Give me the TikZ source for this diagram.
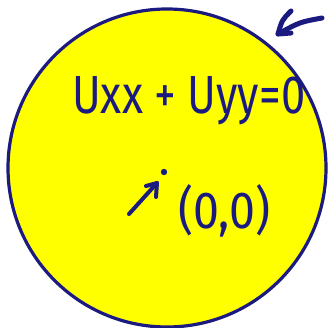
\documentclass[tikz,border=0pt]{standalone}
\usepackage{fontspec}
\setmainfont{Fira Sans}
\usetikzlibrary{arrows.meta}
\definecolor{ink}{HTML}{1A1A80}
\definecolor{fillyel}{HTML}{FFFF00}
\tikzset{
  disk/.style={draw=ink, fill=fillyel, line width=3.2pt},
  pen/.style={draw=ink, line width=5pt, line cap=round, line join=round},
  lbl/.style={text=ink, inner sep=0pt}
}
\begin{document}
\begin{tikzpicture}[x=1pt,y=-1pt]
\useasboundingbox (0,0) rectangle (328,328);
\node[disk, circle, minimum size=318pt, inner sep=0pt] (c) at (167,168) {};
\node[lbl, anchor=north west] (eq) at (72,76) {\resizebox{233pt}{37pt}{Uxx + Uyy=0}};
\fill[ink] (164,172) circle (3.2pt) coordinate (o);
\coordinate (a0) at (129,214);
\coordinate (a1) at (157,183);
\draw[pen, line width=4pt] (a0) -- (a1);
\draw[pen, line width=4pt] (146,186) -- (a1) -- (156,197);
\node[lbl, anchor=north west] (org) at (178,184) {\resizebox{92pt}{44pt}{(0,0)}};
\coordinate (t0) at (322,18);
\coordinate (t1) at (278,34);
\draw[pen] (t0) .. controls (300,22) .. (t1);
\draw[pen] (291,11) .. controls (282,20) .. (t1) -- (291,33);
\end{tikzpicture}
\end{document}
